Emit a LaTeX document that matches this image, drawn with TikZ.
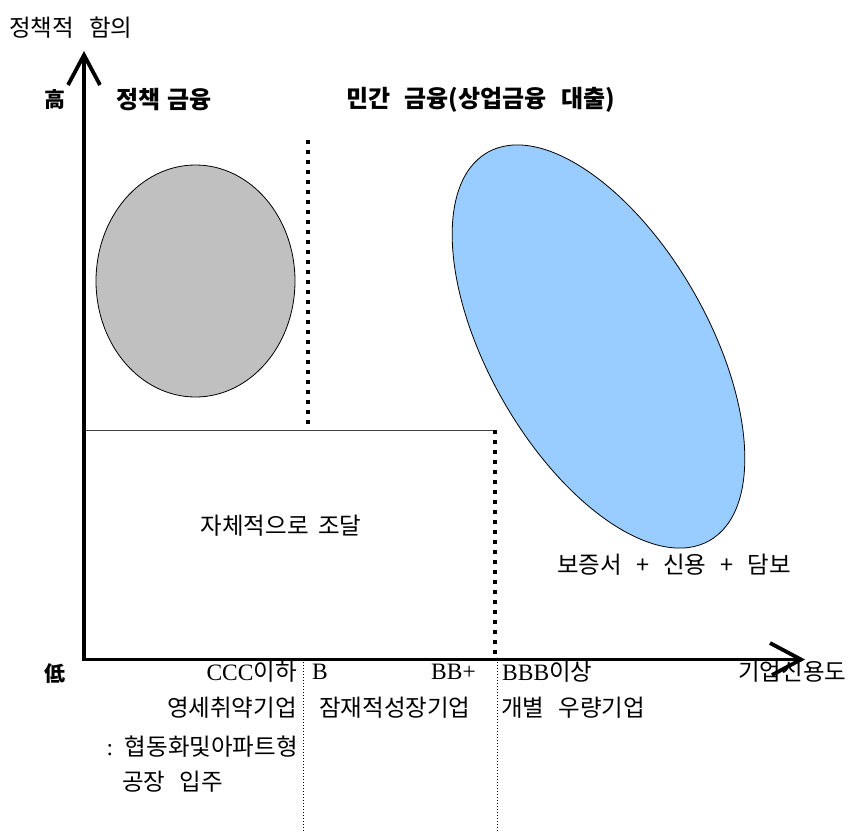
\documentclass[tikz,border=0pt]{standalone}
\usepackage{fontspec}
\setmainfont{Liberation Serif}
\newfontfamily\kr{Noto Sans CJK KR}
\definecolor{ellgray}{HTML}{C0C0C0}
\definecolor{ellblue}{HTML}{99CCFF}
\newcommand{\ksp}{\hspace{0.6em}}
\tikzset{
  lbl/.style={inner sep=0pt, font=\fontsize{23.5}{28}\selectfont\kr},
  ttl/.style={inner sep=0pt, font=\fontsize{24}{29}\selectfont\kr\bfseries},
  hanb/.style={inner sep=0pt, font=\fontsize{21}{25}\selectfont\kr\bfseries},
  axisline/.style={line width=3.8pt},
  thickdots/.style={line width=3.5pt, dash pattern=on 3.5pt off 6.5pt},
  thindots/.style={line width=0.8pt, dash pattern=on 1pt off 2pt},
}
\begin{document}
\begin{tikzpicture}[x=1pt,y=1pt]
\useasboundingbox (0,0) rectangle (855,-831);
% ellipses
\draw[fill=ellgray, line width=0.8pt] (195.5,-281) ellipse (99.5 and 116);
\draw[fill=ellblue, line width=0.8pt, rotate around={29.8:(598.5,-346.5)}] (598.5,-346.5) ellipse (109.7 and 223.6);
% coordinates
\coordinate (yb) at (84,-661);
\coordinate (yt) at (84,-55);
\coordinate (xl) at (82,-659.5);
\coordinate (xr) at (801,-659.5);
\coordinate (ya1) at (68,-85);
\coordinate (ya2) at (100,-85);
\coordinate (xa1) at (770,-643);
\coordinate (xa2) at (772,-675);
\coordinate (hl) at (86,-430);
\coordinate (hr) at (493,-430);
\coordinate (d1t) at (308,-140);
\coordinate (d1b) at (308,-428);
\coordinate (d2t) at (495,-430);
\coordinate (d2b) at (495,-657);
\coordinate (f1t) at (303.5,-662);
\coordinate (f1b) at (303.5,-831);
\coordinate (f2t) at (497,-662);
\coordinate (f2b) at (497,-831);
% lines
\draw[line width=1pt, black!75] (hl) -- (hr);
\draw[thickdots] (d1t) -- (d1b);
\draw[thickdots] (d2t) -- (d2b);
\draw[thindots] (f1t) -- (f1b);
\draw[thindots] (f2t) -- (f2b);
% texts
\node[lbl, anchor=west] (title) at (9,-28) {정책적\hspace{0.65em}함의};
\node[hanb] (hi) at (55,-100) {高};
\node[ttl, anchor=west] (t1) at (116,-100) {정책\hspace{0.3em}금융};
\node[ttl, anchor=west] (t2) at (346,-100) {민간\hspace{0.6em}금융(상업금융\hspace{0.6em}대출)};
\node[hanb] (lo) at (55,-674) {低};
\node[lbl] (self) at (281,-526) {자체적으로\hspace{0.4em}조달};
\node[lbl, anchor=west] (guar) at (557,-565) {보증서\hspace{0.6em}+\hspace{0.6em}신용\hspace{0.6em}+\hspace{0.6em}담보};
\node[lbl, anchor=east] (ccc) at (297,-672) {{\rmfamily CCC}이하};
\node[lbl, anchor=west] (b) at (312,-672) {{\rmfamily B}};
\node[lbl, anchor=east] (bbp) at (476,-672) {{\rmfamily BB+}};
\node[lbl, anchor=west] (bbb) at (502,-672) {{\rmfamily BBB}이상};
\node[lbl, anchor=west] (xlab) at (738,-672) {기업신용도};
\node[lbl, anchor=east] (r2a) at (297,-708) {영세취약기업};
\node[lbl, anchor=west] (r2b) at (319,-708) {잠재적성장기업};
\node[lbl, anchor=west] (r2c) at (501,-708) {개별\ksp 우량기업};
\node[lbl, anchor=east] (r3) at (298,-747) {{\rmfamily :}\hspace{0.5em}협동화및아파트형};
\node[lbl, anchor=west] (r4) at (122,-782) {공장\ksp 입주};
% axes
\draw[axisline] (yb) -- (yt);
\draw[axisline] (xl) -- (xr);
\draw[axisline, line join=miter] (ya1) -- (yt) -- (ya2);
\draw[axisline, line join=miter] (xa1) -- (xr) -- (xa2);
\end{tikzpicture}
\end{document}
